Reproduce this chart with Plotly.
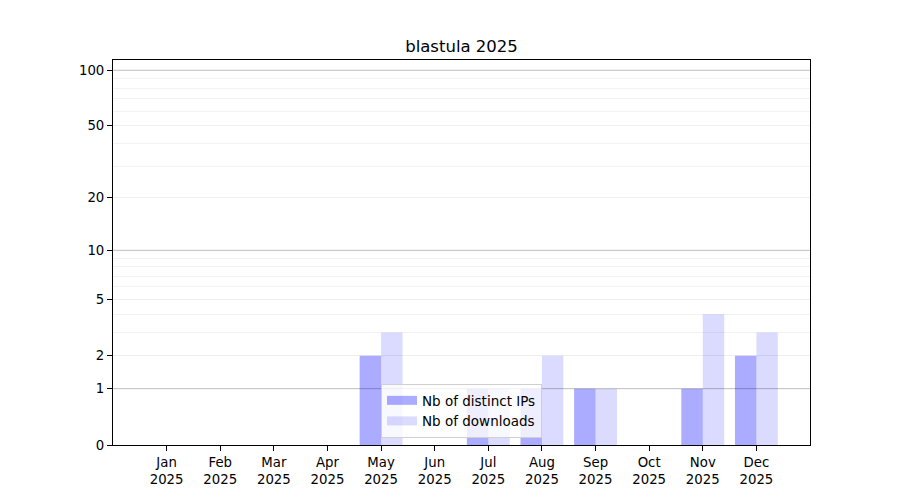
import plotly.graph_objects as go

months = ['Jan', 'Feb', 'Mar', 'Apr', 'May', 'Jun', 'Jul', 'Aug', 'Sep', 'Oct', 'Nov', 'Dec']
year = '2025'
distinct_ips = [0, 0, 0, 0, 2, 0, 1, 1, 1, 0, 1, 2]
downloads = [0, 0, 0, 0, 3, 0, 1, 2, 1, 0, 4, 3]

tick_values = [0, 1, 2, 5, 10, 20, 50, 100]
minor_values = [3, 4, 6, 7, 8, 9, 30, 40, 60, 70, 80, 90]
strong_grid = [1, 10, 100]

labels = [f'{m}<br>{year}' for m in months]
ip_color = 'rgba(0,0,255,0.33)'
dl_color = 'rgba(0,0,255,0.14)'

# log(1 + x) scale: plot on a log axis with bars based at 1
fig = go.Figure()
fig.add_trace(go.Bar(
    x=labels, y=distinct_ips, base=1,
    name='Nb of distinct IPs', showlegend=False,
    marker=dict(color=ip_color, line=dict(width=0)),
))
fig.add_trace(go.Bar(
    x=labels, y=downloads, base=1,
    name='Nb of downloads', showlegend=False,
    marker=dict(color=dl_color, line=dict(width=0)),
))

# legend entries with wide patches like matplotlib
for name, color in [('Nb of distinct IPs', ip_color), ('Nb of downloads', dl_color)]:
    fig.add_trace(go.Scatter(
        x=[None], y=[None], mode='lines', name=name,
        line=dict(color=color, width=9),
    ))

for v in strong_grid:
    fig.add_shape(
        type='line', xref='paper', yref='y',
        x0=0, x1=1, y0=v + 1, y1=v + 1,
        line=dict(color='rgba(0,0,0,0.2)', width=1),
        layer='above',
    )

fig.update_layout(
    width=900, height=500,
    title=dict(text='blastula 2025', x=(105 + 697 / 2) / 900, xanchor='center',
               y=1 - 38 / 500, yanchor='middle',
               font=dict(size=16.5, color='black')),
    font=dict(family='DejaVu Sans', size=13.3, color='black'),
    plot_bgcolor='white', paper_bgcolor='white',
    margin=dict(l=105, r=98, t=52, b=63),
    barmode='group', bargap=0.2, bargroupgap=0,
    legend=dict(
        x=0.5, y=0.018, xanchor='center', yanchor='bottom',
        bgcolor='rgba(255,255,255,0.8)', bordercolor='#d0d0d0', borderwidth=1,
        font=dict(size=13.5), traceorder='normal', itemwidth=30,
    ),
)

fig.update_xaxes(
    type='category', range=[-1, 12],
    showline=True, linecolor='black', linewidth=1, mirror=True,
    ticks='outside', ticklen=5, tickcolor='black',
    showgrid=False, zeroline=False,
)

fig.update_yaxes(
    type='log', range=[0, 2.059],
    tickvals=[v + 1 for v in tick_values],
    ticktext=[str(v) for v in tick_values],
    showline=True, linecolor='black', linewidth=1, mirror=True,
    ticks='outside', ticklen=5, tickcolor='black',
    showgrid=True, gridcolor='#eeeeee', gridwidth=1,
    minor=dict(tickvals=[v + 1 for v in minor_values], ticks='',
               showgrid=True, gridcolor='#f2f2f2', gridwidth=1),
    zeroline=False,
)

fig.write_html('out.html')
